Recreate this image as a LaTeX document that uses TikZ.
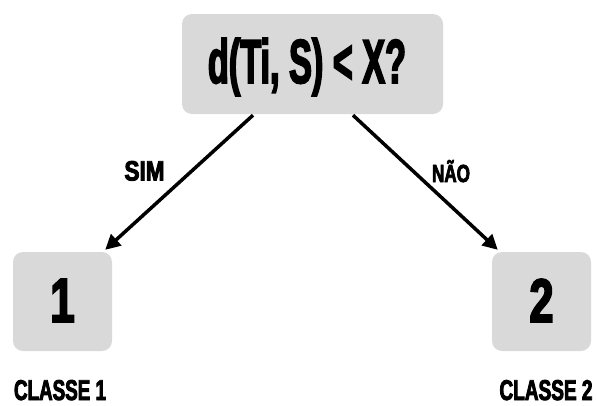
\documentclass[tikz,border=0pt]{standalone}
\usepackage{fontspec}
\usepackage{graphicx}
\newfontfamily\condfont{Liberation Sans Bold}[FakeStretch=0.7,FakeBold=3]
\newcommand{\fitbox}[3]{\resizebox{#1}{#2}{#3}}
\usetikzlibrary{arrows.meta}
\definecolor{boxgray}{HTML}{D9D9D9}
\tikzset{
  graybox/.style={fill=boxgray,draw=none,rounded corners=10pt,inner sep=0pt},
  lbl/.style={font=\condfont\fontsize{20}{20}\selectfont,inner sep=0pt,anchor=base},
  conn/.style={line width=3.5pt,-{Triangle[length=15pt,width=15pt]}}
}
\begin{document}
\begin{tikzpicture}[x=1pt,y=-1pt]
\useasboundingbox (0,0) rectangle (597,405);
\node[graybox,minimum width=261pt,minimum height=100pt] (top) at (312.5,64) {};
\node[graybox,minimum width=99pt,minimum height=99pt] (left) at (62.5,301.5) {};
\node[graybox,minimum width=99pt,minimum height=99pt] (right) at (541.5,301.5) {};
\node[lbl] (toptext) at (307,83) {\fitbox{198pt}{45pt}{d(Ti, S) < X?}};
\node[lbl] (one) at (62.5,322) {\fitbox{!}{43pt}{1}};
\node[lbl] (two) at (541.5,322) {\fitbox{!}{43pt}{2}};
\node[lbl] (sim) at (144.5,180.5) {\fitbox{40pt}{19.5pt}{SIM}};
\node[lbl] (nao) at (451,182) {\fitbox{38pt}{22pt}{NÃO}};
\node[lbl] (c1) at (60,400) {\fitbox{92pt}{20pt}{CLASSE 1}};
\node[lbl] (c2) at (546,400) {\fitbox{93pt}{20pt}{CLASSE 2}};
\coordinate (s1) at ([xshift=-59.5pt,yshift=-1pt]top.south);
\coordinate (s2) at ([xshift=40.5pt,yshift=-1pt]top.south);
\coordinate (t1) at ([xshift=-7pt,yshift=2pt]left.north east);
\coordinate (t2) at ([xshift=6pt,yshift=2pt]right.north west);
\draw[conn] (s1) -- (t1);
\draw[conn] (s2) -- (t2);
\end{tikzpicture}
\end{document}
